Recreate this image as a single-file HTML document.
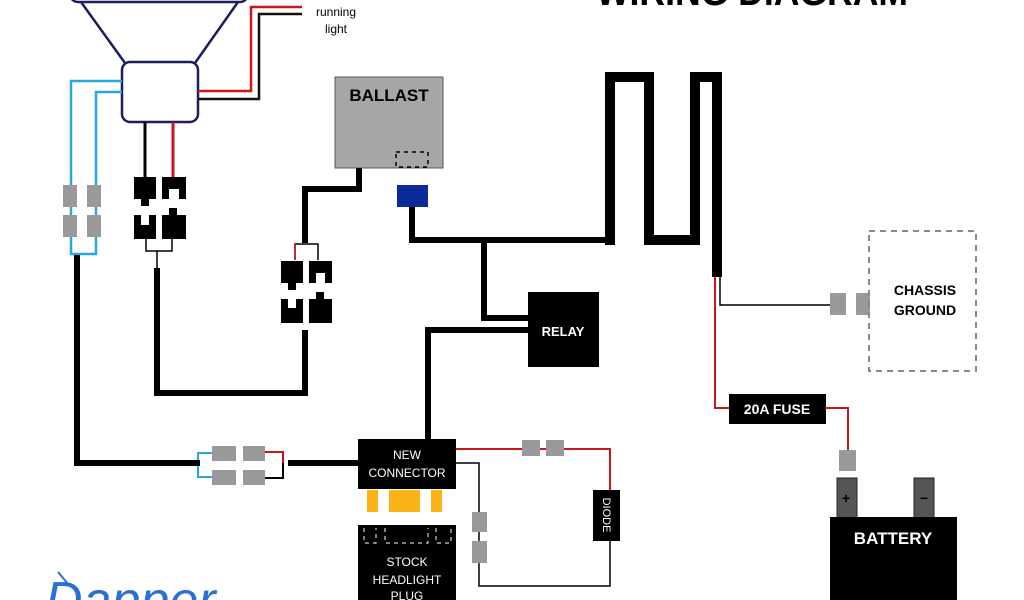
<!DOCTYPE html>
<html><head><style>
html,body{margin:0;background:#fff;width:1024px;height:600px;overflow:hidden}
svg{display:block}
text{font-family:"Liberation Sans",sans-serif}
</style></head><body>
<svg width="1024" height="600" viewBox="0 0 1024 600" xmlns="http://www.w3.org/2000/svg">
<rect width="1024" height="600" fill="#fff"/>
<text x="752" y="5" font-size="40" font-weight="bold" text-anchor="middle" textLength="312" lengthAdjust="spacingAndGlyphs">WIRING DIAGRAM</text>

<g fill="none" stroke="#1a1f5c" stroke-width="2.5">
<rect x="70" y="-20" width="178" height="22" rx="8"/>
<line x1="81" y1="2" x2="125" y2="63"/>
<line x1="238" y1="2" x2="195" y2="63"/>
<rect x="122" y="62" width="76" height="60" rx="8" fill="#fff"/>
</g>
<polyline points="198,91 251,91 251,7 302,7" fill="none" stroke="#c8161d" stroke-width="2.5"/>
<polyline points="198,99 259,99 259,14 302,14" fill="none" stroke="#111" stroke-width="2.5"/>
<text x="336" y="16" font-size="12" text-anchor="middle">running</text>
<text x="336" y="33" font-size="12" text-anchor="middle">light</text>

<polyline points="122,81 71,81 71,254 96,254 96,92 122,92" fill="none" stroke="#2aa6df" stroke-width="2.5"/>
<g fill="#999">
<rect x="63" y="185" width="14" height="22"/><rect x="87" y="185" width="14" height="22"/>
<rect x="63" y="215" width="14" height="22"/><rect x="87" y="215" width="14" height="22"/>
</g>
<polyline points="77,255 77,463 200,463" fill="none" stroke="#000" stroke-width="6"/>

<line x1="145" y1="122" x2="145" y2="178" stroke="#000" stroke-width="3"/>
<line x1="173" y1="122" x2="173" y2="178" stroke="#c8161d" stroke-width="3"/>
<g fill="#000">
<rect x="134" y="177" width="22" height="22"/><rect x="141" y="199" width="8" height="7"/>
<path d="M162 177h24v22h-7v-10h-10v10h-7z"/>
<path d="M134 215h7v10h8v-10h7v24h-22z"/>
<rect x="162" y="215" width="24" height="24"/><rect x="169" y="208" width="8" height="7"/>
</g>
<polyline points="146,239 146,251 172,251 172,239" fill="none" stroke="#000" stroke-width="1.5"/>
<line x1="157" y1="251" x2="157" y2="268" stroke="#000" stroke-width="1.5"/>
<polyline points="157,268 157,393 305,393 305,330" fill="none" stroke="#000" stroke-width="6"/>

<rect x="335" y="77" width="108" height="91" fill="#a6a6a6" stroke="#555" stroke-width="1"/>
<text x="389" y="101" font-size="17" font-weight="bold" text-anchor="middle">BALLAST</text>
<g stroke="#000" stroke-width="1.5" fill="none" stroke-dasharray="4,4">
<rect x="396" y="152" width="32" height="15"/>
</g>
<polyline points="359,168 359,189 305,189 305,243" fill="none" stroke="#000" stroke-width="6"/>
<polyline points="295,260 295,244 318,244 318,260" fill="none" stroke="#000" stroke-width="1.5"/>
<line x1="295" y1="244" x2="295" y2="260" stroke="#c8161d" stroke-width="1.5"/>
<g fill="#000">
<rect x="281" y="261" width="22" height="22"/><rect x="288" y="283" width="8" height="7"/>
<path d="M309 261h23v22h-7v-10h-9v10h-7z"/>
<path d="M281 299h7v9h8v-9h7v24h-22z"/>
<rect x="309" y="299" width="23" height="24"/><rect x="316" y="292" width="8" height="7"/>
</g>
<rect x="397" y="185" width="31" height="22" fill="#0a2a99"/>
<polyline points="412,207 412,240 610,240" fill="none" stroke="#000" stroke-width="6"/>
<g fill="#000">
<rect x="605" y="72" width="10" height="173"/>
<rect x="605" y="72" width="49" height="10"/>
<rect x="644" y="72" width="10" height="173"/>
<rect x="644" y="235" width="56" height="10"/>
<rect x="690" y="72" width="10" height="173"/>
<rect x="690" y="72" width="32" height="10"/>
<rect x="712" y="72" width="10" height="205"/>
</g>

<polyline points="484,240 484,318 530,318" fill="none" stroke="#000" stroke-width="6"/>
<rect x="528" y="292" width="71" height="75" fill="#000"/>
<text x="563" y="336" font-size="13" font-weight="bold" fill="#fff" text-anchor="middle">RELAY</text>
<polyline points="530,330 428,330 428,442" fill="none" stroke="#000" stroke-width="6"/>

<rect x="358" y="439" width="98" height="50" fill="#000"/>
<text x="407" y="459" font-size="12" fill="#fff" text-anchor="middle">NEW</text>
<text x="407" y="477" font-size="12" fill="#fff" text-anchor="middle">CONNECTOR</text>
<g fill="#fbb415">
<rect x="367" y="490" width="11" height="22"/><rect x="389" y="490" width="31" height="22"/><rect x="431" y="490" width="11" height="22"/>
</g>
<rect x="358" y="525" width="98" height="75" fill="#000"/>
<g stroke="#fff" stroke-width="1" fill="none" stroke-dasharray="4,4">
<path d="M364 528 V543 H376 V528 M385 528 V543 H428 V528 M436 528 V543 H451 V528"/>
</g>
<text x="407" y="566" font-size="12" fill="#fff" text-anchor="middle">STOCK</text>
<text x="407" y="584" font-size="12" fill="#fff" text-anchor="middle">HEADLIGHT</text>
<text x="407" y="600" font-size="12" fill="#fff" text-anchor="middle">PLUG</text>

<polyline points="456,449 610,449 610,491" fill="none" stroke="#c8161d" stroke-width="2"/>
<rect x="522" y="440" width="18" height="16" fill="#999"/><rect x="546" y="440" width="18" height="16" fill="#999"/>
<rect x="593" y="490" width="27" height="51" fill="#000"/>
<text x="0" y="0" font-size="11" fill="#fff" text-anchor="middle" transform="translate(603,515) rotate(90)">DIODE</text>
<polyline points="456,463 479,463 479,586 610,586 610,540" fill="none" stroke="#000" stroke-width="1.5"/>
<rect x="472" y="512" width="15" height="20" fill="#999"/><rect x="472" y="541" width="15" height="22" fill="#999"/>

<polyline points="212,453 198,453 198,477 212,477" fill="none" stroke="#2aa6df" stroke-width="2"/>
<line x1="196" y1="463" x2="200" y2="463" stroke="#000" stroke-width="6"/>
<g fill="#999">
<rect x="212" y="446" width="24" height="15"/><rect x="243" y="446" width="22" height="15"/>
<rect x="212" y="470" width="24" height="15"/><rect x="243" y="470" width="22" height="15"/>
</g>
<polyline points="265,452 283,452 283,463" fill="none" stroke="#c8161d" stroke-width="2"/>
<polyline points="265,478 283,478 283,463" fill="none" stroke="#000" stroke-width="2"/>
<line x1="288" y1="463" x2="358" y2="463" stroke="#000" stroke-width="6"/>

<text x="45" y="618" font-size="52" font-style="italic" fill="#2a6fd6" font-family="Liberation Serif,serif">Dapper</text>
<line x1="58" y1="572" x2="68" y2="584" stroke="#2a6fd6" stroke-width="2"/>

<polyline points="720,277 720,305 832,305" fill="none" stroke="#000" stroke-width="1.5"/>
<rect x="830" y="293" width="16" height="22" fill="#999"/><rect x="856" y="293" width="14" height="22" fill="#999"/>
<rect x="869" y="231" width="107" height="140" fill="none" stroke="#888" stroke-width="2" stroke-dasharray="6,5"/>
<text x="925" y="295" font-size="14" font-weight="bold" text-anchor="middle">CHASSIS</text>
<text x="925" y="315" font-size="14" font-weight="bold" text-anchor="middle">GROUND</text>
<polyline points="715,277 715,408 730,408" fill="none" stroke="#c8161d" stroke-width="2"/>
<rect x="729" y="394" width="97" height="30" fill="#000"/>
<text x="777" y="414" font-size="14" font-weight="bold" fill="#fff" text-anchor="middle">20A FUSE</text>
<polyline points="825,408 848,408 848,452" fill="none" stroke="#c8161d" stroke-width="2"/>
<rect x="839" y="450" width="17" height="21" fill="#999"/>
<rect x="837" y="478" width="20" height="40" fill="#555" stroke="#222"/>
<rect x="914" y="478" width="20" height="40" fill="#555" stroke="#222"/>
<text x="846" y="503" font-size="14" font-weight="bold" text-anchor="middle">+</text>
<text x="924" y="503" font-size="14" font-weight="bold" text-anchor="middle">−</text>
<rect x="830" y="517" width="127" height="83" fill="#000"/>
<text x="893" y="544" font-size="17" font-weight="bold" fill="#fff" text-anchor="middle">BATTERY</text>
</svg>
</body></html>
